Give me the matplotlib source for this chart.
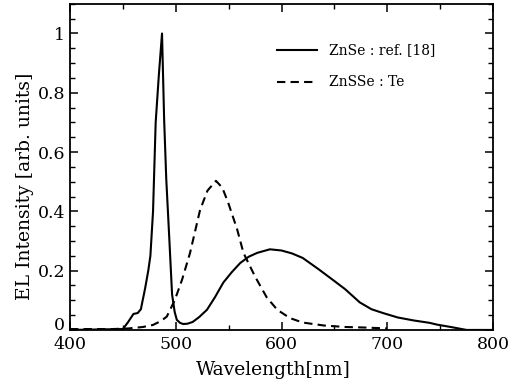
import matplotlib
matplotlib.use("Agg")
import matplotlib.pyplot as plt
from matplotlib.ticker import MultipleLocator
import matplotlib.transforms as mtransforms

plt.rcParams['font.family'] = ['DejaVu Serif']

# ZnSe : ref. [18]
znse_wl = [400, 450, 455, 460, 464, 467, 471, 474, 476, 478.5, 481, 484, 487,
           489, 491, 494, 496.5, 499, 501, 504, 507, 511, 516, 522, 529.5, 537,
           545, 553, 561, 569, 577, 589, 600, 610, 620, 635, 650, 660, 674, 685,
           696, 710, 725, 740, 747, 760, 775, 800]
znse_el = [0.0, 0.003, 0.027, 0.054, 0.057, 0.07, 0.14, 0.2, 0.25, 0.4, 0.7,
           0.86, 1.0, 0.71, 0.51, 0.3, 0.12, 0.06, 0.034, 0.024, 0.02, 0.021,
           0.027, 0.043, 0.068, 0.11, 0.16, 0.195, 0.226, 0.247, 0.26, 0.272,
           0.268, 0.258, 0.243, 0.205, 0.165, 0.138, 0.093, 0.07, 0.057, 0.042,
           0.032, 0.024, 0.018, 0.01, 0.0, 0.0]

# ZnSSe : Te
znsse_wl = [400, 440, 455, 469, 478.5, 486, 491.5, 499, 506, 513.5, 523, 530,
            538, 544, 549.5, 558, 564, 575, 586, 596, 608, 620, 640, 660, 680,
            700]
znsse_el = [0.003, 0.003, 0.005, 0.01, 0.017, 0.03, 0.045, 0.10, 0.17, 0.26,
            0.405, 0.47, 0.503, 0.48, 0.43, 0.34, 0.26, 0.18, 0.11, 0.068, 0.04,
            0.025, 0.015, 0.01, 0.008, 0.005]

fig = plt.figure(figsize=(5.13, 3.85), dpi=100)
ax = fig.add_axes([0.1365, 0.143, 0.8245, 0.847])

ax.plot(znse_wl, znse_el, color='black', lw=1.5, label='ZnSe : ref. [18]')
ax.plot(znsse_wl, znsse_el, color='black', lw=1.5, ls=(0, (4, 2.5)), label='ZnSSe : Te')

ax.set_xlim(400, 800)
ax.set_ylim(0, 1.1)
ax.xaxis.set_major_locator(MultipleLocator(100))
ax.xaxis.set_minor_locator(MultipleLocator(50))
ax.yaxis.set_minor_locator(MultipleLocator(0.05))
ax.set_yticks([0, 0.2, 0.4, 0.6, 0.8, 1.0])
ax.set_yticklabels(['0', '0.2', '0.4', '0.6', '0.8', '1'])
ax.tick_params(which='both', direction='in', top=True, right=True, labelsize=12.5)
ax.tick_params(which='major', length=6, width=1.1)
ax.tick_params(which='minor', length=3.5, width=1.0)
ax.tick_params(axis='x', pad=4)
for s in ax.spines.values():
    s.set_linewidth(1.3)

# nudge the "0" label up so it sits clear of "400"
lab0 = ax.get_yticklabels()[0]
lab0.set_transform(lab0.get_transform() + mtransforms.ScaledTranslation(0, 6 / 100, fig.dpi_scale_trans))

ax.set_xlabel('Wavelength[nm]', fontsize=13.5)
ax.set_ylabel('EL Intensity [arb. units]', fontsize=13.5)
ax.xaxis.set_label_coords(0.48, -0.095)
ax.yaxis.set_label_coords(-0.085, 0.44)

ax.legend(loc='upper left', bbox_to_anchor=(0.473, 0.90), frameon=False,
          borderpad=0, fontsize=10, handlelength=2.9, handletextpad=0.86,
          labelspacing=1.3)

fig.savefig('out.png', dpi=100)
